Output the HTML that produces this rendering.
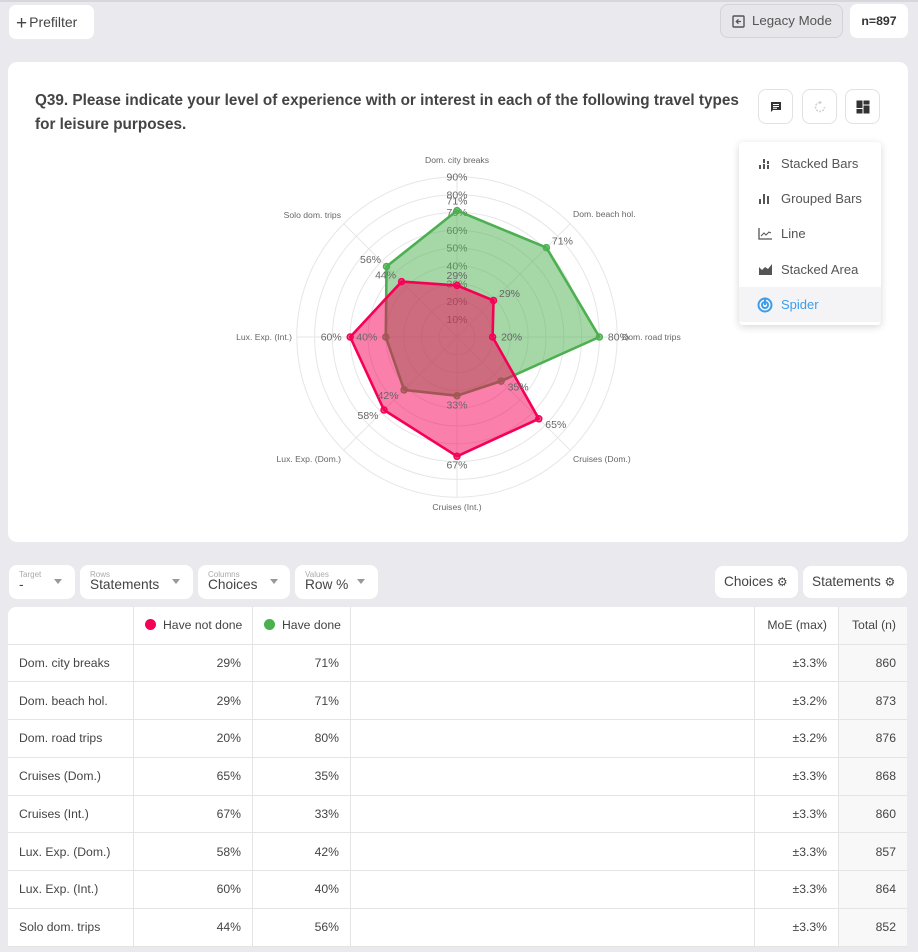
<!DOCTYPE html>
<html><head><meta charset="utf-8">
<style>
*{box-sizing:border-box;margin:0;padding:0}
body{width:918px;height:952px;overflow:hidden;background:#e9e9ee;font-family:"Liberation Sans",Arial,sans-serif;color:#444;position:relative}
.abs{position:absolute}
.btn{position:absolute;background:#fff;border-radius:7px}
.card{position:absolute;background:#fff;border-radius:9px}
.ib{position:absolute;width:35px;height:35px;border:1px solid #e2e2e2;border-radius:8px;background:#fff}
.dd{position:absolute;left:739px;top:142px;width:142px;height:183px;background:#fff;border-radius:4px;box-shadow:0 2px 8px rgba(0,0,0,0.16)}
.mi{position:absolute;left:0;width:142px;height:35px;font-size:13px;color:#555;line-height:35px;padding-left:42px}
.mi svg{position:absolute;left:19px;top:11px}
.sel{position:absolute;top:565px;height:34px;background:#fff;border-radius:8px}
.sel .l{position:absolute;left:10px;top:5px;font-size:8px;color:#aaa}
.sel .v{position:absolute;left:10px;top:12px;font-size:13.7px;color:#444}
.sel .c{position:absolute;top:14px;width:0;height:0;border-left:4.5px solid transparent;border-right:4.5px solid transparent;border-top:5px solid #999}
table{position:absolute;left:8px;top:607px;width:899px;border-collapse:collapse;table-layout:fixed;font-size:12.2px;color:#444}
td{border:1px solid #e4e4e4;padding:0 11px;white-space:nowrap;overflow:hidden}
td.r{text-align:right}
td.t{background:#f8f8f8}
tr.h td{height:37px}
tr.d td{height:37.75px}
.dot{display:inline-block;width:11px;height:11px;border-radius:50%;vertical-align:-1px;margin-right:7px}
</style></head><body>
<div class="abs" style="left:0;top:0;width:918px;height:2px;background:#d6d6db"></div>

<div class="btn" style="left:9px;top:5px;width:85px;height:34px;font-size:14px;line-height:34px;padding-left:7px;color:#444"><span style="font-size:19px;vertical-align:-2px;margin-right:2px">+</span>Prefilter</div>
<div class="abs" style="left:720px;top:4px;width:123px;height:34px;border:1px solid #d3d3d8;border-radius:8px;background:#e6e6eb;font-size:13.3px;line-height:32px;color:#555;padding-left:31px">Legacy Mode
<svg class="abs" style="left:11px;top:10px" width="13" height="13" viewBox="0 0 13 13"><rect x="1" y="1" width="11" height="11" rx="1" fill="none" stroke="#555" stroke-width="1.4"/><path d="M9 6.5H4.5M6.5 4.3L4.3 6.5 6.5 8.7" fill="none" stroke="#555" stroke-width="1.3"/></svg></div>
<div class="btn" style="left:850px;top:4px;width:58px;height:34px;font-size:12.3px;font-weight:bold;line-height:34px;text-align:center;color:#333">n=897</div>

<div class="card" style="left:8px;top:62px;width:900px;height:480px"></div>
<div class="abs" style="left:35px;top:89px;font-size:15.3px;font-weight:bold;line-height:24px;color:#444;white-space:nowrap">Q39. Please indicate your level of experience with or interest in each of the following travel types<br>for leisure purposes.</div>

<div class="ib" style="left:758px;top:89px"><svg class="abs" style="left:11px;top:11px" width="12" height="12" viewBox="0 0 12 12"><path d="M1 1h10v8H3l-2 2z" fill="#333"/><path d="M3 3.5h6M3 5.5h6M3 7.3h4" stroke="#fff" stroke-width="1"/></svg></div>
<div class="ib" style="left:802px;top:89px"><svg class="abs" style="left:10px;top:10px" width="14" height="14" viewBox="0 0 14 14"><path d="M7 2.5A4.5 4.5 0 1 0 11.5 7" fill="none" stroke="#d0d0d0" stroke-width="1.5" stroke-dasharray="2 1.3"/><path d="M6.5 0.5L9 2.5 6.5 4.5z" fill="#d0d0d0"/></svg></div>
<div class="ib" style="left:845px;top:89px"><svg class="abs" style="left:10px;top:10px" width="14" height="14" viewBox="0 0 14 14"><rect x="0.5" y="0.5" width="6" height="7.5" fill="#333"/><rect x="7.5" y="0.5" width="6" height="4" fill="#333"/><rect x="0.5" y="9" width="6" height="4.5" fill="#333"/><rect x="7.5" y="5.5" width="6" height="8" fill="#333"/></svg></div>

<svg class="abs" style="left:0;top:0" width="918" height="560" viewBox="0 0 918 560" font-family="Liberation Sans, Arial, sans-serif">
<g fill="none" stroke="#e6e6e6" stroke-width="1">
<circle cx="457" cy="337" r="17.8"/><circle cx="457" cy="337" r="35.6"/><circle cx="457" cy="337" r="53.4"/><circle cx="457" cy="337" r="71.2"/><circle cx="457" cy="337" r="89"/><circle cx="457" cy="337" r="106.8"/><circle cx="457" cy="337" r="124.6"/><circle cx="457" cy="337" r="142.4"/><circle cx="457" cy="337" r="160.2"/>
<path d="M457 337L457 176.8M457 337L570.3 223.7M457 337L617.2 337M457 337L570.3 450.3M457 337L457 497.2M457 337L343.7 450.3M457 337L296.8 337M457 337L343.7 223.7"/>
</g>
<g font-size="10.5" fill="#666" text-anchor="middle">
<text x="457" y="322.9">10%</text><text x="457" y="305.1">20%</text><text x="457" y="287.3">30%</text><text x="457" y="269.5">40%</text><text x="457" y="251.7">50%</text><text x="457" y="233.9">60%</text><text x="457" y="216.1">70%</text><text x="457" y="198.3">80%</text><text x="457" y="180.5">90%</text>
</g>
<polygon points="457,210.6 546.4,247.6 599.4,337 501.1,381.1 457,395.7 404.1,389.9 385.8,337 386.5,266.5" fill="rgba(76,175,80,0.5)" stroke="#4caf50" stroke-width="2.6" stroke-linejoin="round"/>
<g fill="rgba(76,175,80,0.6)" stroke="#4caf50" stroke-width="1.5">
<circle cx="457" cy="210.6" r="3"/><circle cx="546.4" cy="247.6" r="3"/><circle cx="599.4" cy="337" r="3"/><circle cx="501.1" cy="381.1" r="3"/><circle cx="457" cy="395.7" r="3"/><circle cx="404.1" cy="389.9" r="3"/><circle cx="385.8" cy="337" r="3"/><circle cx="386.5" cy="266.5" r="3"/>
</g>
<polygon points="457,285.4 493.5,300.5 492.6,337 538.8,418.8 457,456.3 384,410 350.2,337 401.6,281.6" fill="rgba(245,0,87,0.5)" stroke="#f50057" stroke-width="2.6" stroke-linejoin="round"/>
<g fill="rgba(245,0,87,0.6)" stroke="#f50057" stroke-width="1.5">
<circle cx="457" cy="285.4" r="3"/><circle cx="493.5" cy="300.5" r="3"/><circle cx="492.6" cy="337" r="3"/><circle cx="538.8" cy="418.8" r="3"/><circle cx="457" cy="456.3" r="3"/><circle cx="384" cy="410" r="3"/><circle cx="350.2" cy="337" r="3"/><circle cx="401.6" cy="281.6" r="3"/>
</g>
<g font-size="10.5" fill="#666" text-anchor="middle">
<text x="457" y="279.1">29%</text><text x="509.5" y="297.2">29%</text><text x="511.6" y="340.7">20%</text><text x="555.8" y="428">65%</text><text x="457" y="468.7">67%</text><text x="368" y="419.2">58%</text><text x="331.2" y="340.7">60%</text><text x="385.6" y="278.3">44%</text>
<text x="457" y="204.3">71%</text><text x="562.4" y="244.3">71%</text><text x="618.4" y="340.7">80%</text><text x="518.1" y="390.3">35%</text><text x="457" y="408.4">33%</text><text x="388.1" y="399.1">42%</text><text x="366.8" y="340.7">40%</text><text x="370.5" y="263.2">56%</text>
</g>
<g font-size="8.6" fill="#666">
<text x="457" y="163" text-anchor="middle">Dom. city breaks</text>
<text x="573" y="217">Dom. beach hol.</text>
<text x="622" y="340">Dom. road trips</text>
<text x="573" y="462">Cruises (Dom.)</text>
<text x="457" y="510" text-anchor="middle">Cruises (Int.)</text>
<text x="341" y="462" text-anchor="end">Lux. Exp. (Dom.)</text>
<text x="292" y="340" text-anchor="end">Lux. Exp. (Int.)</text>
<text x="341" y="218" text-anchor="end">Solo dom. trips</text>
</g>
</svg>

<div class="dd">
<div class="mi" style="top:3.5px">Stacked Bars<svg width="13" height="13" viewBox="0 0 13 13"><g fill="#555"><rect x="1" y="8" width="2" height="4"/><rect x="5" y="2" width="2" height="4"/><rect x="5" y="7" width="2" height="5"/><rect x="9" y="4" width="2" height="3"/><rect x="9" y="8" width="2" height="4"/></g></svg></div>
<div class="mi" style="top:38.8px">Grouped Bars<svg width="13" height="13" viewBox="0 0 13 13"><g fill="#555"><rect x="1" y="7" width="2" height="5"/><rect x="5" y="2" width="2" height="10"/><rect x="9" y="4" width="2" height="8"/></g></svg></div>
<div class="mi" style="top:74px">Line<svg width="15" height="13" viewBox="0 0 15 13"><path d="M1 1V12H14" fill="none" stroke="#555" stroke-width="1.3"/><path d="M3 9L6 6 8 8 11 5 13 6" fill="none" stroke="#555" stroke-width="1"/></svg></div>
<div class="mi" style="top:109.5px">Stacked Area<svg width="15" height="13" viewBox="0 0 15 13"><path d="M1 12V4L4 7 7 4 10 6 14 1V12Z" fill="#555"/></svg></div>
<div class="mi" style="top:145px;height:35px;background:#f4f4f6;color:#3d9de8">Spider<svg width="16" height="16" viewBox="0 0 16 16" style="left:18px;top:9.5px"><circle cx="8" cy="8" r="6.5" fill="none" stroke="#3d9de8" stroke-width="2"/><circle cx="8" cy="8" r="3" fill="none" stroke="#3d9de8" stroke-width="2"/><path d="M8 1V8" stroke="#3d9de8" stroke-width="2"/></svg></div>
</div>

<div class="sel" style="left:9px;width:66px"><span class="l">Target</span><span class="v">-</span><span class="c" style="left:45px"></span></div>
<div class="sel" style="left:80px;width:113px"><span class="l">Rows</span><span class="v">Statements</span><span class="c" style="left:92px"></span></div>
<div class="sel" style="left:198px;width:92px"><span class="l">Columns</span><span class="v">Choices</span><span class="c" style="left:72px"></span></div>
<div class="sel" style="left:295px;width:83px"><span class="l">Values</span><span class="v">Row %</span><span class="c" style="left:62px"></span></div>

<div class="btn" style="left:715px;top:566px;width:83px;height:32px;border-radius:8px;font-size:13.6px;line-height:32px;padding-left:9px;color:#444">Choices <span style="font-size:12px;color:#444">&#9881;</span></div>
<div class="btn" style="left:803px;top:566px;width:104px;height:32px;border-radius:8px;font-size:13.6px;line-height:32px;padding-left:9px;color:#444">Statements <span style="font-size:12px;color:#444">&#9881;</span></div>

<div class="abs" style="left:8px;top:607px;width:899px;height:340px;background:#fff;border-radius:8px 8px 0 0"></div>
<table>
<colgroup><col style="width:125.5px"><col style="width:119px"><col style="width:98px"><col style="width:404px"><col style="width:84px"><col style="width:68.5px"></colgroup>
<tr class="h"><td style="border-top:none;border-left:none"></td><td style="border-top:none"><span class="dot" style="background:#f50057"></span>Have not done</td><td style="border-top:none"><span class="dot" style="background:#4caf50"></span>Have done</td><td style="border-top:none"></td><td class="r" style="border-top:none">MoE (max)</td><td class="r t" style="border-top:none;border-right:none">Total (n)</td></tr>
<tr class="d"><td style="border-left:none">Dom. city breaks</td><td class="r">29%</td><td class="r">71%</td><td></td><td class="r">±3.3%</td><td class="r t" style="border-right:none">860</td></tr>
<tr class="d"><td style="border-left:none">Dom. beach hol.</td><td class="r">29%</td><td class="r">71%</td><td></td><td class="r">±3.2%</td><td class="r t" style="border-right:none">873</td></tr>
<tr class="d"><td style="border-left:none">Dom. road trips</td><td class="r">20%</td><td class="r">80%</td><td></td><td class="r">±3.2%</td><td class="r t" style="border-right:none">876</td></tr>
<tr class="d"><td style="border-left:none">Cruises (Dom.)</td><td class="r">65%</td><td class="r">35%</td><td></td><td class="r">±3.3%</td><td class="r t" style="border-right:none">868</td></tr>
<tr class="d"><td style="border-left:none">Cruises (Int.)</td><td class="r">67%</td><td class="r">33%</td><td></td><td class="r">±3.3%</td><td class="r t" style="border-right:none">860</td></tr>
<tr class="d"><td style="border-left:none">Lux. Exp. (Dom.)</td><td class="r">58%</td><td class="r">42%</td><td></td><td class="r">±3.3%</td><td class="r t" style="border-right:none">857</td></tr>
<tr class="d"><td style="border-left:none">Lux. Exp. (Int.)</td><td class="r">60%</td><td class="r">40%</td><td></td><td class="r">±3.3%</td><td class="r t" style="border-right:none">864</td></tr>
<tr class="d"><td style="border-left:none">Solo dom. trips</td><td class="r">44%</td><td class="r">56%</td><td></td><td class="r">±3.3%</td><td class="r t" style="border-right:none">852</td></tr>
</table>
</body></html>
